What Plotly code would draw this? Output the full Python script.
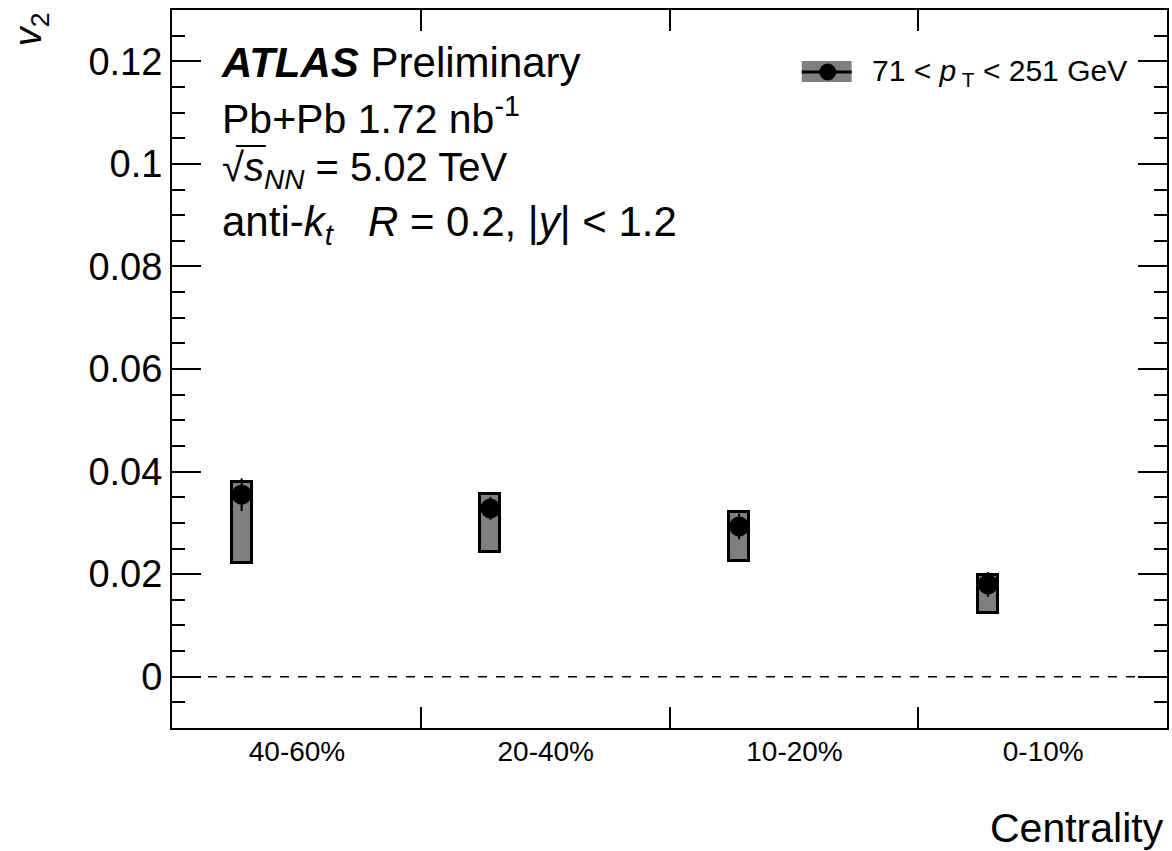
import plotly.graph_objects as go

# Centrality bins and jet v2 measurement (71 < pT < 251 GeV)
centrality = ["40-60%", "20-40%", "10-20%", "0-10%"]
v2 = [0.0355, 0.0328, 0.0293, 0.0180]
stat_err = [0.0032, 0.0022, 0.0025, 0.0024]
sys_lo = [0.0222, 0.0243, 0.0226, 0.0125]
sys_hi = [0.0380, 0.0357, 0.0321, 0.0199]

y_tick_vals = [0, 0.02, 0.04, 0.06, 0.08, 0.1, 0.12]
y_tick_text = ["0", "0.02", "0.04", "0.06", "0.08", "0.1", "0.12"]

W, H = 1172, 851
ML, MR, MT, MB = 172, 3, 10, 123
PW, PH = W - ML - MR, H - MT - MB

FONT = "Liberation Sans, Arial, Helvetica, sans-serif"
GRAY = "#7f7f7f"

def px(x):
    return (x - ML) / PW

def py(y):
    return (H - MB - y) / PH

# points sit a bit left of each bin centre
offset = 0.28
xpos = [i + offset for i in range(len(centrality))]
bin_edges = list(range(len(centrality)))

fig = go.Figure()

# systematic uncertainty boxes
fig.add_trace(go.Bar(
    x=xpos,
    y=[h - l for h, l in zip(sys_hi, sys_lo)],
    base=sys_lo,
    width=0.08,
    marker=dict(color=GRAY, line=dict(color="black", width=3)),
    showlegend=False,
    hoverinfo="skip",
))

# central values with statistical errors
fig.add_trace(go.Scatter(
    x=xpos, y=v2,
    mode="markers",
    marker=dict(color="black", size=20, symbol="circle"),
    error_y=dict(type="data", array=stat_err, color="black", thickness=2, width=0),
    showlegend=False,
))

# empty trace that keeps the top tick axis alive
fig.add_trace(go.Scatter(x=[], y=[], xaxis="x2", showlegend=False, hoverinfo="skip"))

fig.add_shape(type="line", xref="paper", yref="y", x0=0, x1=1, y0=0, y1=0,
              line=dict(color="black", width=1.5, dash="dash"))

# legend drawn by hand: grey box, black line, marker
fig.add_shape(type="rect", xref="paper", yref="paper",
              x0=px(803), x1=px(853), y0=py(82), y1=py(61),
              fillcolor=GRAY, line=dict(width=0))
fig.add_shape(type="line", xref="paper", yref="paper",
              x0=px(803), x1=px(853), y0=py(72), y1=py(72),
              line=dict(color="black", width=3))
fig.add_shape(type="circle", xref="paper", yref="paper",
              x0=px(821), x1=px(837), y0=py(80), y1=py(64),
              fillcolor="black", line=dict(color="black", width=1))

# overline of the square root
fig.add_shape(type="line", xref="paper", yref="paper",
              x0=px(236), x1=px(266), y0=py(146), y1=py(146),
              line=dict(color="black", width=2))

annotations = [
    dict(x=px(871), y=py(72), text="71 < <i>p</i><sub> T</sub> < 251 GeV",
         font=dict(size=30), xanchor="left", yanchor="middle"),
    dict(x=px(219), y=py(62), text="<b><i>ATLAS</i></b> Preliminary",
         font=dict(size=42), xanchor="left", yanchor="middle"),
    dict(x=px(220), y=py(116), text="Pb+Pb 1.72 nb<sup>-1</sup>",
         font=dict(size=41), xanchor="left", yanchor="middle"),
    dict(x=px(220), y=py(170), text="√<i>s</i><sub><i>NN</i></sub> = 5.02 TeV",
         font=dict(size=40), xanchor="left", yanchor="middle"),
    dict(x=px(220), y=py(224), text="anti-<i>k</i><sub><i>t</i></sub>   <i>R</i> = 0.2, |<i>y</i>| < 1.2",
         font=dict(size=42), xanchor="left", yanchor="middle"),
    dict(x=px(1168), y=py(828), text="Centrality",
         font=dict(size=41), xanchor="right", yanchor="middle"),
    dict(x=px(31), y=py(29), text="<i>v</i><sub>2</sub>", textangle=-90,
         font=dict(size=38), xanchor="center", yanchor="middle"),
]
for a in annotations:
    a.update(xref="paper", yref="paper", showarrow=False)

tick_style = dict(ticks="inside", tickwidth=1.5, tickcolor="black")

fig.update_layout(
    width=W, height=H,
    margin=dict(l=ML, r=MR, t=MT, b=MB, pad=0),
    paper_bgcolor="white", plot_bgcolor="white",
    font=dict(family=FONT, color="black"),
    annotations=annotations,
    bargap=0,
    xaxis=dict(
        range=[0, 4], showgrid=False, zeroline=False,
        showline=True, linecolor="black", linewidth=2, mirror=True,
        # ticks on the bin edges, labels shifted to the bin centres
        tickmode="array", tickvals=bin_edges, ticktext=centrality,
        ticklen=21, **tick_style,
        ticklabelshift=round(PW / 8), ticklabelstandoff=-3,
        tickfont=dict(size=28),
    ),
    xaxis2=dict(
        range=[0, 4], overlaying="x", side="top", showgrid=False,
        zeroline=False, showline=False,
        tickmode="array", tickvals=bin_edges, showticklabels=False,
        ticklen=21, **tick_style,
    ),
    yaxis=dict(
        range=[-0.01, 0.13], showgrid=False, zeroline=False,
        showline=True, linecolor="black", linewidth=2, mirror="ticks",
        tickmode="array", tickvals=y_tick_vals, ticktext=y_tick_text,
        ticklen=29, **tick_style,
        tickfont=dict(size=38),
        minor=dict(dtick=0.005, tick0=0, ticks="inside", ticklen=13,
                   tickwidth=1.5, tickcolor="black", showgrid=False),
    ),
)

fig.write_html("out.html")
